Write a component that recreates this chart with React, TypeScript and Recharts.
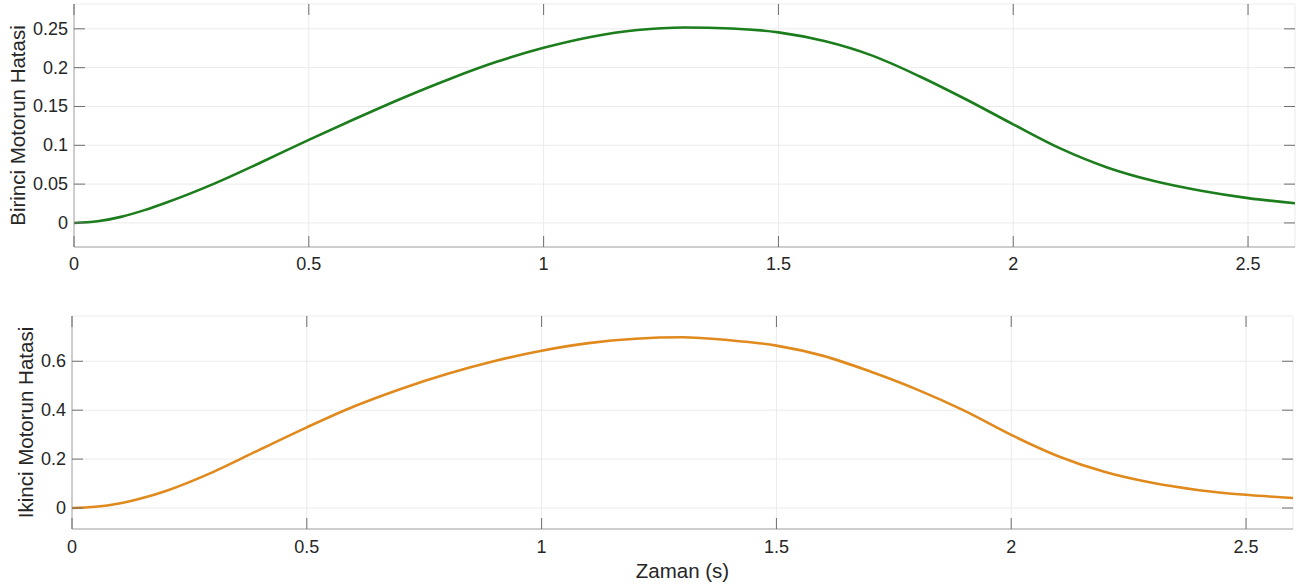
import React from 'react';
import { LineChart, Line, XAxis, YAxis, CartesianGrid, Label } from 'recharts';

const time = [0, 0.05, 0.1, 0.15, 0.2, 0.3, 0.4, 0.5, 0.6, 0.7, 0.8, 0.9, 1.0, 1.1, 1.2, 1.3, 1.4, 1.5, 1.6, 1.7, 1.8, 1.9, 2.0, 2.1, 2.2, 2.3, 2.4, 2.5, 2.6];
const error1 = [0, 0.0021, 0.0078, 0.0165, 0.027, 0.051, 0.0785, 0.107, 0.1345, 0.161, 0.1855, 0.2075, 0.2255, 0.2395, 0.2485, 0.2518, 0.2505, 0.2455, 0.234, 0.2155, 0.189, 0.159, 0.127, 0.096, 0.0715, 0.054, 0.0415, 0.032, 0.0254];
const error2 = [0, 0.005, 0.0185, 0.041, 0.07, 0.147, 0.239, 0.33, 0.415, 0.487, 0.549, 0.601, 0.643, 0.674, 0.692, 0.698, 0.686, 0.664, 0.622, 0.558, 0.484, 0.398, 0.299, 0.212, 0.147, 0.103, 0.073, 0.054, 0.041];

const xTicks = [0, 0.5, 1, 1.5, 2, 2.5];
const yTicks1 = [0, 0.05, 0.1, 0.15, 0.2, 0.25];
const yTicks2 = [0, 0.2, 0.4, 0.6];

const xLabel = 'Zaman (s)';
const yLabel1 = 'Birinci Motorun Hatasi';
const yLabel2 = 'Ikinci Motorun Hatasi';

const data1 = time.map((t, i) => ({ t, v: error1[i] }));
const data2 = time.map((t, i) => ({ t, v: error2[i] }));

const FONT = '"Liberation Sans", Arial, Helvetica, sans-serif';
const TEXT = '#262626';
const BOX = '#a6a6a6';
const TICKC = '#6e6e6e';
const GRID = '#ebebeb';
const TL = 11;

// layout of the two panels
const W = 1301;
const H1 = 290;
const M1 = { top: 4, right: 6, bottom: 0, left: 0 };
const H2 = 287;
const M2 = { top: 16, right: 8, bottom: 0, left: 0 };

function leftTick(margin: number, plotRight: number) {
  return (p: any) => {
    const ax = p.x + margin;
    return (
      <g>
        <line x1={ax} x2={ax + TL} y1={p.y} y2={p.y} stroke={TICKC} strokeWidth={1} />
        <line x1={plotRight - TL} x2={plotRight} y1={p.y} y2={p.y} stroke={TICKC} strokeWidth={1} />
        <text x={p.x} y={p.y} textAnchor="end" dominantBaseline="central" fill={TEXT} fontSize={18} fontFamily={FONT}>
          {String(p.payload.value)}
        </text>
      </g>
    );
  };
}

function bottomTick(margin: number, plotTop: number) {
  return (p: any) => {
    const ay = p.y - margin;
    return (
      <g>
        <line x1={p.x} x2={p.x} y1={ay} y2={ay - TL} stroke={TICKC} strokeWidth={1} />
        <line x1={p.x} x2={p.x} y1={plotTop} y2={plotTop + TL} stroke={TICKC} strokeWidth={1} />
        <text x={p.x} y={p.y} dy="0.71em" textAnchor="middle" fill={TEXT} fontSize={18} fontFamily={FONT}>
          {String(p.payload.value)}
        </text>
      </g>
    );
  };
}

function yLabelContent(text: string, cx: number) {
  return (props: any) => {
    const vb = props.viewBox || {};
    const cy = (vb.y ?? 0) + (vb.height ?? 0) / 2;
    return (
      <text
        x={cx}
        y={cy}
        transform={`rotate(-90, ${cx}, ${cy})`}
        textAnchor="middle"
        dominantBaseline="central"
        fill={TEXT}
        fontSize={20.5}
        fontFamily={FONT}
      >
        {text}
      </text>
    );
  };
}

function xLabelContent(text: string) {
  return (props: any) => {
    const vb = props.viewBox || {};
    const cx = (vb.x ?? 0) + (vb.width ?? 0) / 2;
    const cy = (vb.y ?? 0) + 41;
    return (
      <text x={cx} y={cy} textAnchor="middle" dominantBaseline="central" fill={TEXT} fontSize={20.5} fontFamily={FONT}>
        {text}
      </text>
    );
  };
}

export default function App() {
  return (
    <div style={{ position: 'fixed', left: 0, top: 0, width: W, height: 587, background: '#fff', fontFamily: FONT }}>
      <div style={{ position: 'absolute', left: 0, top: 0 }}>
        <LineChart width={W} height={H1} data={data1} margin={M1}>
          <CartesianGrid stroke={GRID} strokeWidth={1} />
          <XAxis dataKey="t" type="number" domain={[0, 2.6]} allowDataOverflow ticks={xTicks} height={43} tickSize={0} tickMargin={10} axisLine={{ stroke: BOX }} tickLine={false} tick={bottomTick(10, M1.top)} />
          <XAxis xAxisId="top" orientation="top" dataKey="t" type="number" domain={[0, 2.6]} allowDataOverflow ticks={xTicks} height={0} axisLine={{ stroke: BOX }} tickLine={false} tick={false} />
          <YAxis type="number" domain={[-0.031, 0.282]} allowDataOverflow ticks={yTicks1} width={74} tickSize={0} tickMargin={6} axisLine={{ stroke: BOX }} tickLine={false} tick={leftTick(6, W - M1.right)}>
            <Label content={yLabelContent(yLabel1, 17.5)} />
          </YAxis>
          <YAxis yAxisId="right" orientation="right" type="number" domain={[-0.031, 0.282]} allowDataOverflow ticks={yTicks1} width={0} axisLine={{ stroke: BOX }} tickLine={false} tick={false} />
          <Line type="monotone" dataKey="v" stroke="#1b7d1b" strokeWidth={2.6} dot={false} isAnimationActive={false} />
        </LineChart>
      </div>
      <div style={{ position: 'absolute', left: 0, top: 300 }}>
        <LineChart width={W} height={H2} data={data2} margin={M2}>
          <CartesianGrid stroke={GRID} strokeWidth={1} />
          <XAxis dataKey="t" type="number" domain={[0, 2.6]} allowDataOverflow ticks={xTicks} height={58} tickSize={0} tickMargin={11} axisLine={{ stroke: BOX }} tickLine={false} tick={bottomTick(11, M2.top)}>
            <Label content={xLabelContent(xLabel)} />
          </XAxis>
          <XAxis xAxisId="top" orientation="top" dataKey="t" type="number" domain={[0, 2.6]} allowDataOverflow ticks={xTicks} height={0} axisLine={{ stroke: BOX }} tickLine={false} tick={false} />
          <YAxis type="number" domain={[-0.0857, 0.785]} allowDataOverflow ticks={yTicks2} width={72} tickSize={0} tickMargin={6} axisLine={{ stroke: BOX }} tickLine={false} tick={leftTick(6, W - M2.right)}>
            <Label content={yLabelContent(yLabel2, 25)} />
          </YAxis>
          <YAxis yAxisId="right" orientation="right" type="number" domain={[-0.0857, 0.785]} allowDataOverflow ticks={yTicks2} width={0} axisLine={{ stroke: BOX }} tickLine={false} tick={false} />
          <Line type="monotone" dataKey="v" stroke="#e08a1e" strokeWidth={2.6} dot={false} isAnimationActive={false} />
        </LineChart>
      </div>
    </div>
  );
}
